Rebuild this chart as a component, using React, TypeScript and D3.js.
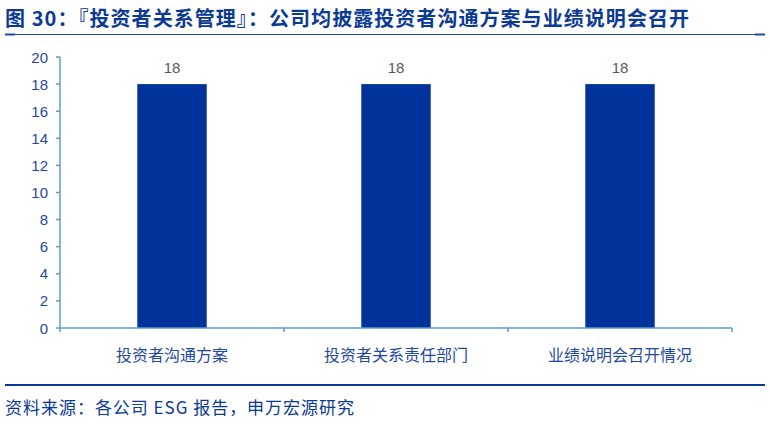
import React from "react";
import * as d3 from "d3";

const categories = ["投资者沟通方案", "投资者关系责任部门", "业绩说明会召开情况"];
const values = [18, 18, 18];
const yTicks = [0, 2, 4, 6, 8, 10, 12, 14, 16, 18, 20];
const title = "图 30：『投资者关系管理』：公司均披露投资者沟通方案与业绩说明会召开";
const source = "资料来源：各公司 ESG 报告，申万宏源研究";

const W = 771;
const H = 421;
const font = "'Noto Sans CJK SC', 'Noto Sans', sans-serif";
const numFont = "Arial, 'Liberation Sans', sans-serif";

export default function App() {
  const x0 = 60, x1 = 732, yTop = 57, yBot = 328;
  const x = d3.scaleBand<string>().domain(categories).range([x0, x1]).paddingInner(0.69).paddingOuter(0.345);
  const y = d3.scaleLinear().domain([0, 20]).range([yBot, yTop]);
  const axisColor = "#5b9bd5";
  const textBlue = "#1f48a0";
  const bandW = (x1 - x0) / categories.length;
  return (
    <div style={{ position: "absolute", left: 0, top: 0, width: W, height: H, background: "#fff" }}>
      <svg width={W} height={H} style={{ display: "block" }}>
        <text x={5} y={25.5} fontFamily={font} fontWeight={700} fontSize={20} fill="#0b3a94" textLength={684} lengthAdjust="spacing">{title}</text>
        <line x1={5} x2={765} y1={34.5} y2={34.5} stroke="#1f4aa0" strokeWidth={1} />
        <line x1={5} x2={15} y1={34.5} y2={34.5} stroke="#1f4aa0" strokeWidth={2} />
        <line x1={755} x2={765} y1={34.5} y2={34.5} stroke="#1f4aa0" strokeWidth={2} />

        {categories.map((c, i) => (
          <g key={c}>
            <rect x={x(c)!} y={y(values[i])} width={x.bandwidth()} height={yBot - y(values[i])} fill="#003399" />
            <text x={x(c)! + x.bandwidth() / 2} y={y(values[i]) - 11} textAnchor="middle" fontFamily={numFont} fontSize={15} fill="#595959">{values[i]}</text>
            <text x={x0 + bandW * (i + 0.5)} y={361} textAnchor="middle" fontFamily={font} fontSize={16} fill={textBlue}>{c}</text>
          </g>
        ))}

        <line x1={x0} x2={x0} y1={yTop} y2={yBot} stroke={axisColor} strokeWidth={1.5} />
        {yTicks.map((t) => (
          <g key={t}>
            <line x1={x0 - 4} x2={x0} y1={y(t)} y2={y(t)} stroke={axisColor} strokeWidth={1.5} />
            <text x={48} y={y(t) + 5.5} textAnchor="end" fontFamily={numFont} fontSize={15} fill={textBlue}>{t}</text>
          </g>
        ))}
        <line x1={x0} x2={x1} y1={yBot} y2={yBot} stroke={axisColor} strokeWidth={1.5} />
        {d3.range(categories.length + 1).map((i) => (
          <line key={i} x1={x0 + bandW * i} x2={x0 + bandW * i} y1={yBot} y2={yBot + 4} stroke={axisColor} strokeWidth={1.5} />
        ))}

        <line x1={5} x2={765} y1={385} y2={385} stroke="#0b3a94" strokeWidth={2} />
        <text x={5} y={414} fontFamily={font} fontSize={17} fill="#0b3a94" textLength={349} lengthAdjust="spacing">{source}</text>
      </svg>
    </div>
  );
}
